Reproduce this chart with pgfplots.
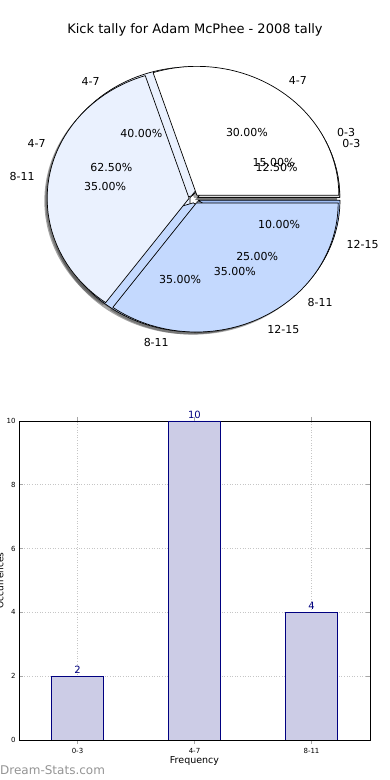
\documentclass[border=0pt]{standalone}
\usepackage{pgfplots}
\pgfplotsset{compat=1.18}
\usepackage{fontspec}
\setmainfont{DejaVu Sans}
\definecolor{vlight}{RGB}{234,241,254}
\definecolor{lightb}{RGB}{196,217,254}
\definecolor{fourth}{RGB}{160,190,245}
\definecolor{barfill}{RGB}{204,204,230}
\definecolor{barnavy}{RGB}{0,0,128}
\newcommand\pfont{\fontsize{11}{13}\selectfont}
% wedge: #1 start %, #2 end %, #3 fill colour, #4 explode
\newcommand\slice[4]{%
  \pgfmathsetmacro\sa{#1*3.6}%
  \pgfmathsetmacro\ea{#2*3.6}%
  \pgfmathsetmacro\ma{(#1+#2)*1.8}%
  \pgfmathsetmacro\pdx{#4*cos(\ma)}%
  \pgfmathsetmacro\pdy{#4*sin(\ma)}%
  \edef\doit{\noexpand\addplot[draw=black, line width=0.7pt, line join=round, fill=#3, domain=\sa:\ea, samples=60] ({\pdx+cos(x)},{\pdy+sin(x)}) -- (axis cs:\pdx,\pdy) -- cycle;}%
  \doit}
% shadow of a wedge
\newcommand\shadow[3]{%
  \pgfmathsetmacro\sa{#1*3.6}%
  \pgfmathsetmacro\ea{#2*3.6}%
  \pgfmathsetmacro\ma{(#1+#2)*1.8}%
  \pgfmathsetmacro\pdx{#3*cos(\ma)-0.02}%
  \pgfmathsetmacro\pdy{#3*sin(\ma)-0.02}%
  \edef\doit{\noexpand\addplot[draw=none, fill=black!70, fill opacity=0.5, domain=\sa:\ea, samples=60] ({\pdx+cos(x)},{\pdy+sin(x)}) -- (axis cs:\pdx,\pdy) -- cycle;}%
  \doit}
% labels: #1 start %, #2 end %, #3 label, #4 explode, #5 percentage text
\newcommand\plabel[5]{%
  \pgfmathsetmacro\ma{(#1+#2)*1.8}%
  \pgfmathsetmacro\lx{(#4+1.1)*cos(\ma)}%
  \pgfmathsetmacro\ly{(#4+1.1)*sin(\ma)}%
  \pgfmathsetmacro\qx{(#4+0.6)*cos(\ma)}%
  \pgfmathsetmacro\qy{(#4+0.6)*sin(\ma)}%
  \pgfmathtruncatemacro\isright{\lx>0}%
  \ifnum\isright=1 \def\anc{west}\else\def\anc{east}\fi
  \edef\doit{\noexpand\node[anchor=\anc, font=\noexpand\pfont, inner sep=0pt] at (axis cs:\lx,\ly) {#3};
    \noexpand\node[font=\noexpand\pfont, inner sep=0pt] at (axis cs:\qx,\qy) {#5\noexpand\%};}%
  \doit}
\begin{document}
\begin{tikzpicture}
\useasboundingbox (0pt,0pt) rectangle (390pt,780pt);
\node[font=\fontsize{13}{15}\selectfont] at (195pt,750pt) {Kick tally for Adam McPhee - 2008 tally};
\begin{axis}[at={(194pt,581pt)}, anchor=center, scale only axis,
  width=369pt, height=335.4pt, xmin=-1.3, xmax=1.3, ymin=-1.3, ymax=1.3,
  hide axis, clip=false]
% shadows
\shadow{0}{12.5}{0.03}\shadow{12.5}{75}{0.03}\shadow{75}{100}{0.03}
\shadow{0}{15}{0.03}\shadow{15}{55}{0.03}\shadow{55}{90}{0.03}\shadow{90}{100}{0.03}
\shadow{0}{30}{0.035}\shadow{30}{65}{0.035}\shadow{65}{100}{0.035}
% pie B: 0-3 12.5, 4-7 62.5, 8-11 25
\slice{0}{12.5}{white}{0.03}
\slice{12.5}{75}{vlight}{0.03}
\slice{75}{100}{lightb}{0.03}
% pie A: 0-3 15, 4-7 40, 8-11 35, 12-15 10
\slice{0}{15}{white}{0.03}
\slice{15}{55}{vlight}{0.03}
\slice{55}{90}{lightb}{0.03}
\slice{90}{100}{fourth}{0.03}
% pie C: 4-7 30, 8-11 35, 12-15 35
\slice{0}{30}{white}{0.035}
\slice{30}{65}{vlight}{0.035}
\slice{65}{100}{lightb}{0.035}
% labels
\plabel{0}{15}{0-3}{0.03}{15.00}
\plabel{15}{55}{4-7}{0.03}{40.00}
\plabel{55}{90}{8-11}{0.03}{35.00}
\plabel{90}{100}{12-15}{0.03}{10.00}
\plabel{0}{12.5}{0-3}{0.03}{12.50}
\plabel{12.5}{75}{4-7}{0.03}{62.50}
\plabel{75}{100}{8-11}{0.03}{25.00}
\plabel{0}{30}{4-7}{0.035}{30.00}
\plabel{30}{65}{8-11}{0.035}{35.00}
\plabel{65}{100}{12-15}{0.035}{35.00}
\end{axis}
\begin{axis}[at={(19pt,40pt)}, anchor=south west, scale only axis,
  width=351pt, height=319pt,
  xmin=-0.5, xmax=2.5, ymin=0, ymax=10,
  xtick={0,1,2}, xticklabels={0-3,4-7,8-11}, ytick={0,2,...,10},
  /pgf/number format/assume math mode=true,
  tick label style={font=\fontsize{7}{8}\selectfont},
  xticklabel style={yshift=-1pt},
  grid=major, grid style={gray!45, line width=0.7pt, dash pattern=on 1pt off 1.6pt},
  axis line style={black, line width=0.8pt},
  major tick style={gray!70, line width=0.8pt}, major tick length=4pt,
  xlabel={Frequency}, xlabel style={font=\fontsize{9.5}{11}\selectfont, yshift=4pt},
  ylabel={Occurrences}, ylabel style={font=\fontsize{9}{10}\selectfont, at={(axis description cs:-0.054,0.5)}, anchor=center},
  ybar, bar width=52pt,
  nodes near coords, nodes near coords style={font=\fontsize{10}{12}\selectfont, text=barnavy, inner sep=2.5pt},
  ]
\addplot[fill=barfill, draw=barnavy, line width=0.7pt] coordinates {(0,2) (1,10) (2,4)};
\end{axis}
\node[anchor=west, font=\fontsize{12}{14}\selectfont, text=black!42, inner sep=0pt] at (0pt,10pt) {Dream-Stats.com};
\end{tikzpicture}
\end{document}
